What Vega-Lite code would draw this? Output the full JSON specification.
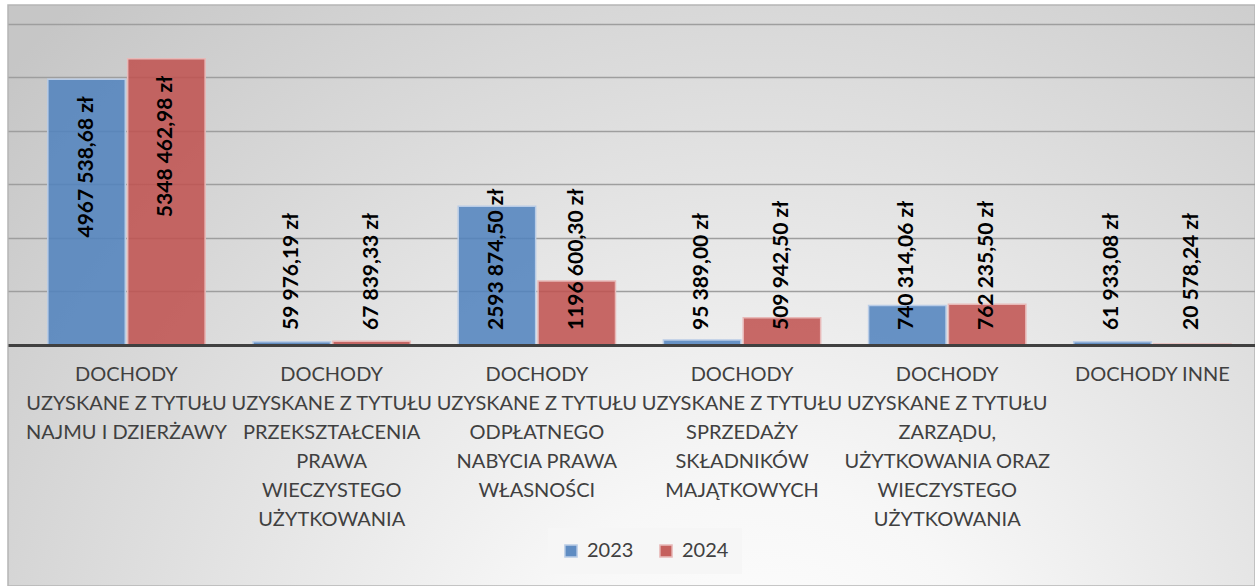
{
  "$schema": "https://vega.github.io/schema/vega-lite/v6.json",
  "width": 1247,
  "height": 581,
  "autosize": {"type": "none"},
  "padding": {"left": 8, "top": 5, "right": 0, "bottom": 0},
  "background": "#ffffff",
  "view": {
    "fill": {
      "gradient": "radial",
      "x1": 0.6, "y1": 0.85, "r1": 0,
      "x2": 0.6, "y2": 0.85, "r2": 0.8,
      "stops": [
        {"offset": 0, "color": "#ffffff"},
        {"offset": 0.25, "color": "#f7f7f7"},
        {"offset": 1, "color": "#c6c6c6"}
      ]
    },
    "stroke": "#b5b5b5",
    "strokeWidth": 1.5
  },
  "data": {
    "values": [
      {"kategoria": "DOCHODY\nUZYSKANE Z TYTUŁU\nNAJMU I DZIERŻAWY", "rok": "2023", "wartosc": 4967538.68, "etykieta": "4967 538,68 zł"},
      {"kategoria": "DOCHODY\nUZYSKANE Z TYTUŁU\nNAJMU I DZIERŻAWY", "rok": "2024", "wartosc": 5348462.98, "etykieta": "5348 462,98 zł"},
      {"kategoria": "DOCHODY\nUZYSKANE Z TYTUŁU\nPRZEKSZTAŁCENIA\nPRAWA\nWIECZYSTEGO\nUŻYTKOWANIA", "rok": "2023", "wartosc": 59976.19, "etykieta": "59 976,19 zł"},
      {"kategoria": "DOCHODY\nUZYSKANE Z TYTUŁU\nPRZEKSZTAŁCENIA\nPRAWA\nWIECZYSTEGO\nUŻYTKOWANIA", "rok": "2024", "wartosc": 67839.33, "etykieta": "67 839,33 zł"},
      {"kategoria": "DOCHODY\nUZYSKANE Z TYTUŁU\nODPŁATNEGO\nNABYCIA PRAWA\nWŁASNOŚCI", "rok": "2023", "wartosc": 2593874.50, "etykieta": "2593 874,50 zł"},
      {"kategoria": "DOCHODY\nUZYSKANE Z TYTUŁU\nODPŁATNEGO\nNABYCIA PRAWA\nWŁASNOŚCI", "rok": "2024", "wartosc": 1196600.30, "etykieta": "1196 600,30 zł"},
      {"kategoria": "DOCHODY\nUZYSKANE Z TYTUŁU\nSPRZEDAŻY\nSKŁADNIKÓW\nMAJĄTKOWYCH", "rok": "2023", "wartosc": 95389.00, "etykieta": "95 389,00 zł"},
      {"kategoria": "DOCHODY\nUZYSKANE Z TYTUŁU\nSPRZEDAŻY\nSKŁADNIKÓW\nMAJĄTKOWYCH", "rok": "2024", "wartosc": 509942.50, "etykieta": "509 942,50 zł"},
      {"kategoria": "DOCHODY\nUZYSKANE Z TYTUŁU\nZARZĄDU,\nUŻYTKOWANIA ORAZ\nWIECZYSTEGO\nUŻYTKOWANIA", "rok": "2023", "wartosc": 740314.06, "etykieta": "740 314,06 zł"},
      {"kategoria": "DOCHODY\nUZYSKANE Z TYTUŁU\nZARZĄDU,\nUŻYTKOWANIA ORAZ\nWIECZYSTEGO\nUŻYTKOWANIA", "rok": "2024", "wartosc": 762235.50, "etykieta": "762 235,50 zł"},
      {"kategoria": "DOCHODY INNE", "rok": "2023", "wartosc": 61933.08, "etykieta": "61 933,08 zł"},
      {"kategoria": "DOCHODY INNE", "rok": "2024", "wartosc": 20578.24, "etykieta": "20 578,24 zł"}
    ]
  },
  "encoding": {
    "x": {
      "field": "kategoria", "type": "nominal", "sort": null, "title": null,
      "scale": {"paddingInner": 0, "paddingOuter": 0.0387, "align": 1},
      "axis": {
        "orient": "bottom", "offset": -241, "zindex": 1,
        "labelAngle": 0, "labelExpr": "split(datum.label, '\\n')",
        "labelFont": "Lato", "labelFontSize": 20, "labelColor": "#404040",
        "labelLineHeight": 29, "labelPadding": 19, "labelLimit": 0,
        "ticks": false, "domainColor": "#404040", "domainWidth": 3, "grid": false
      }
    },
    "xOffset": {
      "field": "rok", "type": "nominal",
      "scale": {"paddingInner": 0.03, "paddingOuter": 0.3}
    },
    "y": {
      "field": "wartosc", "type": "quantitative", "title": null,
      "scale": {"domain": [-4505000, 6355000], "nice": false, "zero": false},
      "axis": {
        "values": [1000000, 2000000, 3000000, 4000000, 5000000, 6000000],
        "labels": false, "ticks": false, "domain": false,
        "grid": true, "gridColor": "#9e9e9e", "gridWidth": 1.5
      }
    }
  },
  "layer": [
    {
      "mark": {"type": "bar", "fillOpacity": 0.85, "strokeWidth": 1.5},
      "encoding": {
        "color": {
          "field": "rok", "type": "nominal",
          "scale": {"domain": ["2023", "2024"], "range": ["#4f81bd", "#c0504d"]},
          "legend": {
            "orient": "none", "legendX": 540, "legendY": 523,
            "direction": "horizontal", "title": null,
            "fillColor": "#f6f6f6", "padding": 13,
            "symbolType": "square", "symbolSize": 150, "symbolOpacity": 0.9,
            "labelFont": "Lato", "labelFontSize": 20, "labelColor": "#404040",
            "columnPadding": 22, "labelOffset": 6
          }
        },
        "stroke": {
          "field": "rok", "type": "nominal",
          "scale": {"domain": ["2023", "2024"], "range": ["#b9cce6", "#e8b9b8"]},
          "legend": null
        }
      }
    },
    {
      "transform": [{"filter": "datum.wartosc > 3000000"}],
      "mark": {"type": "text", "angle": -90, "align": "right", "baseline": "middle", "dx": -17, "font": "Lato", "fontWeight": "bold", "fontSize": 21, "color": "#000000"},
      "encoding": {"text": {"field": "etykieta"}}
    },
    {
      "transform": [{"filter": "datum.wartosc <= 3000000"}],
      "mark": {"type": "text", "angle": -90, "align": "left", "baseline": "middle", "dx": 15, "font": "Lato", "fontWeight": "bold", "fontSize": 21, "color": "#000000"},
      "encoding": {"y": {"datum": 0}, "text": {"field": "etykieta"}}
    }
  ]
}
